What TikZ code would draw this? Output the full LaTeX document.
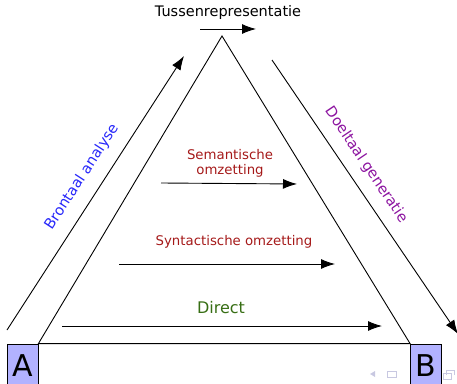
\documentclass[tikz,border=0pt]{standalone}
\usepackage{fontspec}
\setmainfont{DejaVu Sans}
\usetikzlibrary{arrows.meta,positioning}
\definecolor{srcblue}{RGB}{40,40,250}
\definecolor{tgtpurple}{RGB}{140,20,160}
\definecolor{stepred}{RGB}{165,25,25}
\definecolor{directgreen}{RGB}{55,110,20}
\definecolor{boxfill}{RGB}{178,178,255}
\definecolor{navgray}{RGB}{200,200,225}
\begin{document}
\begin{tikzpicture}[
                x=1pt, y=1pt,
                font=\fontsize{14.5}{16}\selectfont,
                langbox/.style={rectangle, draw=black, line width=0.9pt, fill=boxfill, minimum width=31pt, minimum height=44pt, inner sep=0pt, font=\fontsize{30}{32}\selectfont},
                arr/.style={-{Latex[length=14pt, width=10pt]}, line width=0.9pt},
                edge/.style={line width=0.9pt},
                lbl/.style={align=center, inner sep=0pt},
                steplbl/.style={lbl, text=stepred, font=\fontsize{13.3}{15}\selectfont},
                sidelbl/.style={lbl, font=\fontsize{14.6}{16}\selectfont},
                nav/.style={draw=navgray, line width=0.8pt},
            ]
            \useasboundingbox (0,0) rectangle (457,383);
            % talen
            \node[langbox] (A) at (22.5,17) {A};
            \node[langbox] (B) at (426,17) {B};
            \coordinate (top) at (222,347);
            % driehoek
            \draw[edge, line join=miter] (A.north east) -- (top) -- (B.north west) -- cycle;
            % analyse en generatie
            \coordinate (an1) at (7,53);
            \coordinate (an2) at (184,327);
            \coordinate (ge1) at (272,323);
            \coordinate (ge2) at (458,49);
            \draw[arr] (an1) -- (an2);
            \draw[arr] (ge1) -- (ge2);
            \node[sidelbl, text=srcblue, rotate=57] (anl) at (82,206) {Brontaal analyse};
            \node[sidelbl, text=tgtpurple, rotate=-56] (gel) at (366,218) {Doeltaal generatie};
            % omzettingen
            \node[lbl] (tus) at (228,370) {Tussenrepresentatie};
            \coordinate (tu1) at (200,354);
            \coordinate (tu2) at (256,354);
            \draw[arr] (tu1) -- (tu2);
            \node[steplbl] (sem) at (230,220) {Semantische\\omzetting};
            \coordinate (se1) at (161,200);
            \coordinate (se2) at (297,199);
            \draw[arr] (se1) -- (se2);
            \node[steplbl] (syn) at (234,141) {Syntactische omzetting};
            \coordinate (sy1) at (119,119);
            \coordinate (sy2) at (335,119);
            \draw[arr] (sy1) -- (sy2);
            \node[lbl, text=directgreen, font=\fontsize{16}{18}\selectfont] (dir) at (221,75) {Direct};
            \coordinate (di1) at (62,57);
            \coordinate (di2) at (382,57);
            \draw[arr] (di1) -- (di2);
            % navigatie
            \fill[navgray] (370,9) -- (375,12) -- (375,6) -- cycle;
            \draw[nav] (387,6) rectangle (396,12);
            \draw[nav] (443,4) rectangle (451,10);
            \draw[nav] (446,8) -- (446,13) -- (454,13) -- (454,8);
        \end{tikzpicture}
\end{document}
